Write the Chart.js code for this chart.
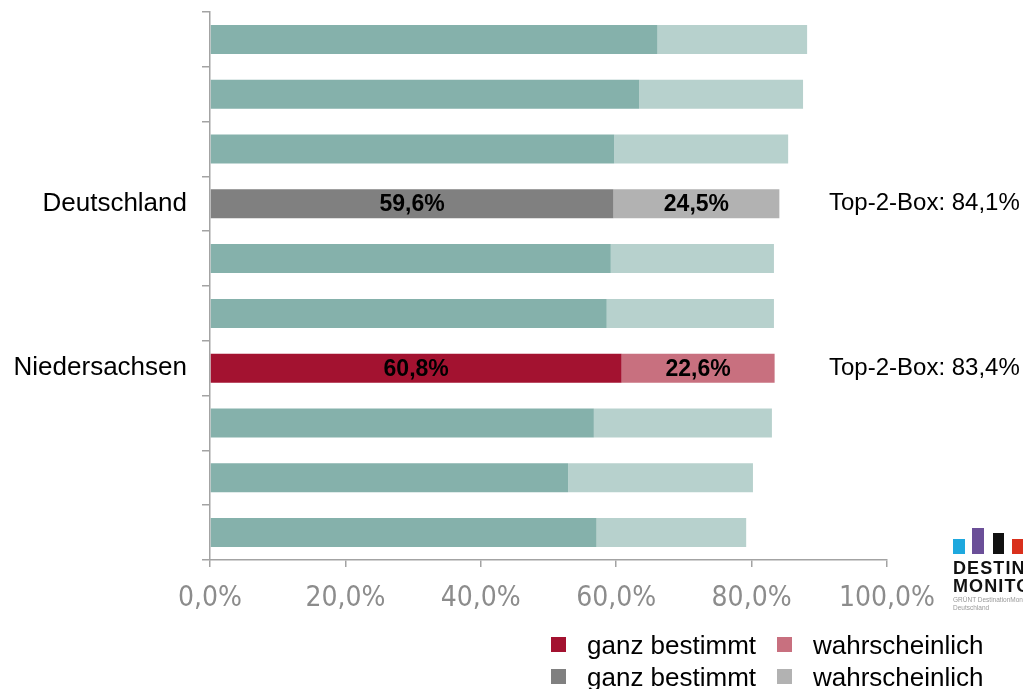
<!DOCTYPE html>
<html>
<head>
<meta charset="utf-8">
<script src="https://cdn.jsdelivr.net/npm/chart.js@4/dist/chart.umd.min.js"></script>
<style>
  html, body { margin: 0; padding: 0; background: #fff; }
  #wrap { position: relative; width: 1023px; height: 689px; overflow: hidden; font-family: "Liberation Sans", Arial, sans-serif; }
  #chart { position: absolute; left: 0; top: 0; }
  .lg-sw { position: absolute; width: 15px; height: 15px; }
  .lg-txt { position: absolute; font-size: 26px; line-height: 30px; color: #000; white-space: nowrap; }
  #logo { position: absolute; left: 953px; top: 527px; width: 120px; }
  .lb { position: absolute; }
  .lt { position: absolute; left: 0; font-weight: 900; font-size: 18px; line-height: 18px; color: #111; letter-spacing: 1.1px; white-space: nowrap; }
  .ls { position: absolute; left: 0; font-size: 6.5px; line-height: 7px; color: #999; white-space: nowrap; }
</style>
</head>
<body>
<div id="wrap">
  <canvas id="chart" width="1023" height="689"></canvas>
  <div id="legend"></div>
  <div id="logo">
    <div class="lb" style="left:0;width:12px;height:15px;background:#1ea8de;top:12px;"></div>
    <div class="lb" style="left:19px;width:12px;height:26px;background:#6b4f98;top:1px;"></div>
    <div class="lb" style="left:40px;width:11px;height:21px;background:#111;top:6px;"></div>
    <div class="lb" style="left:59px;width:12px;height:15px;background:#d9301c;top:12px;"></div>
    <div class="lt" style="top:32px;">DESTINATION</div>
    <div class="lt" style="top:50px;">MONITOR</div>
    <div class="ls" style="top:69px;">GRÜNT DestinationMonitor</div>
    <div class="ls" style="top:77px;">Deutschland</div>
  </div>
</div>
<script>
// Category labels (only the two reference regions carry a name)
const categories = ['', '', '', 'Deutschland', '', '', 'Niedersachsen', '', '', ''];
// Share "ganz bestimmt" (definitely) in %
const ganzBestimmt = [66.1, 63.4, 59.7, 59.6, 59.2, 58.6, 60.8, 56.7, 52.9, 57.1];
// Share "wahrscheinlich" (probably) in %
const wahrscheinlich = [22.1, 24.2, 25.7, 24.5, 24.1, 24.7, 22.6, 26.3, 27.3, 22.1];
// Axis ticks
const xTicks = [0, 20, 40, 60, 80, 100];
// Series names
const seriesNames = ['ganz bestimmt', 'wahrscheinlich'];

// Colour schemes: default rows, Germany row, Lower Saxony row
const palette = {
  base: ['#85b1ab', '#b7d1cd'],
  Deutschland: ['#808080', '#b2b2b2'],
  Niedersachsen: ['#a31230', '#c8707f']
};
const colourFor = (i, s) => (palette[categories[i]] || palette.base)[s];
const highlighted = categories.map((c, i) => c ? i : -1).filter(i => i >= 0);
const fmt = v => v.toFixed(1).replace('.', ',') + '%';

// Legend: one row per highlighted scheme
const legendRows = ['Niedersachsen', 'Deutschland'];
const swatchX = [551, 777];
const textX = [587, 813];
const legend = document.getElementById('legend');
legendRows.forEach((key, r) => {
  const top = 630 + r * 32;
  seriesNames.forEach((name, s) => {
    const sw = document.createElement('div');
    sw.className = 'lg-sw';
    sw.style.background = palette[key][s];
    sw.style.left = swatchX[s] + 'px';
    sw.style.top = (top + 7) + 'px';
    const t = document.createElement('div');
    t.className = 'lg-txt';
    t.textContent = name;
    t.style.left = textX[s] + 'px';
    t.style.top = top + 'px';
    legend.appendChild(sw);
    legend.appendChild(t);
  });
});

const axisGrey = '#a3a3a3';

// Value labels inside the highlighted bars
const valueLabels = {
  id: 'valueLabels',
  afterDatasetsDraw(chart) {
    const ctx = chart.ctx;
    ctx.save();
    ctx.font = 'bold 23px "Liberation Sans", Arial, sans-serif';
    ctx.fillStyle = '#000';
    ctx.textAlign = 'center';
    ctx.textBaseline = 'middle';
    chart.data.datasets.forEach((ds, d) => {
      const meta = chart.getDatasetMeta(d);
      highlighted.forEach(i => {
        const bar = meta.data[i];
        ctx.fillText(fmt(ds.data[i]), (bar.x + bar.base) / 2, bar.y + 1);
      });
    });
    ctx.restore();
  }
};

// Top-2-Box totals to the right of the highlighted bars
const topBox = {
  id: 'topBox',
  afterDraw(chart) {
    const ctx = chart.ctx;
    const y = chart.scales.y;
    ctx.save();
    ctx.font = '24px "Liberation Sans", Arial, sans-serif';
    ctx.fillStyle = '#000';
    ctx.textAlign = 'left';
    ctx.textBaseline = 'middle';
    highlighted.forEach(i => {
      const total = ganzBestimmt[i] + wahrscheinlich[i];
      ctx.fillText('Top-2-Box: ' + fmt(total), chart.chartArea.right - 58, y.getPixelForValue(i));
    });
    ctx.restore();
  }
};

new Chart(document.getElementById('chart'), {
  type: 'bar',
  data: {
    labels: categories,
    datasets: seriesNames.map((name, s) => ({
      label: name,
      data: s === 0 ? ganzBestimmt : wahrscheinlich,
      backgroundColor: categories.map((c, i) => colourFor(i, s)),
      borderWidth: 0,
      barPercentage: 0.53,
      categoryPercentage: 1
    }))
  },
  options: {
    indexAxis: 'y',
    responsive: false,
    animation: false,
    devicePixelRatio: 1,
    layout: { padding: { top: 12, right: 136, bottom: 0, left: 0 } },
    plugins: { legend: { display: false }, tooltip: { enabled: false } },
    scales: {
      x: {
        stacked: true,
        min: 0,
        max: 100,
        afterBuildTicks: s => { s.ticks = xTicks.map(v => ({ value: v })); },
        afterFit: s => { s.height = 129; },
        ticks: {
          callback: v => fmt(v),
          color: '#8c8c8c',
          font: { family: '"Liberation Sans Narrow", "DejaVu Sans Condensed", "Liberation Sans", sans-serif', size: 28 },
          padding: 15,
          maxRotation: 0
        },
        grid: { drawOnChartArea: false, tickLength: 7, color: axisGrey, lineWidth: 1.5 },
        border: { color: axisGrey, width: 1.5 }
      },
      y: {
        stacked: true,
        offset: true,
        afterFit: s => { s.width = 210; s.paddingTop = 0; s.paddingBottom = 0; },
        ticks: {
          autoSkip: false,
          color: '#000',
          font: { family: '"Liberation Sans", Arial, sans-serif', size: 26 },
          padding: 15
        },
        grid: { offset: true, drawOnChartArea: false, tickLength: 8, color: axisGrey, lineWidth: 1.5 },
        border: { color: axisGrey, width: 1.5 }
      }
    }
  },
  plugins: [valueLabels, topBox]
});
</script>
</body>
</html>
